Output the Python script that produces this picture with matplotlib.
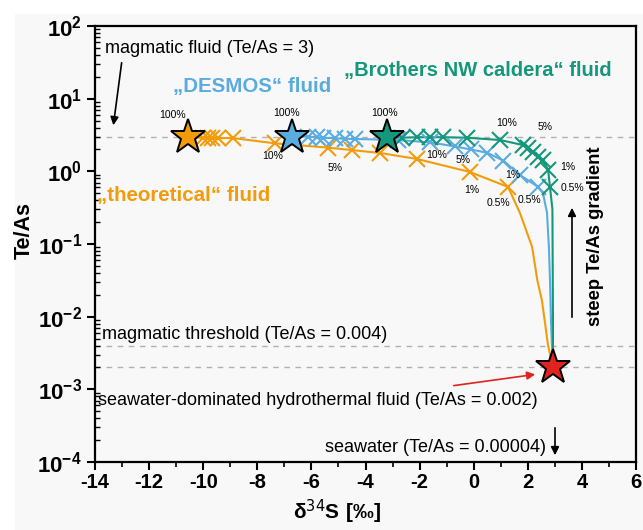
import matplotlib
matplotlib.use("Agg")
import matplotlib.pyplot as plt
from matplotlib.patches import Rectangle
import numpy as np

plt.rcParams['font.family'] = ['Liberation Sans', 'DejaVu Sans']
plt.rcParams['mathtext.fontset'] = 'custom'
plt.rcParams['mathtext.rm'] = 'Liberation Sans'
plt.rcParams['mathtext.bf'] = 'Liberation Sans:bold'

# ---------------- data ----------------
star_theo = (-10.56, 3.0)
star_desmos = (-6.72, 3.0)
star_brothers = (-3.2, 3.0)
star_seawater_fluid = (2.93, 0.002)

theo_x = [-10.01, -9.82, -9.67, -9.45, -8.90, -7.35, -5.39, -4.50, -3.46, -2.10, -0.14, 1.27]
theo_y = [2.87, 2.87, 2.87, 2.87, 2.87, 2.43, 2.12, 1.96, 1.79, 1.48, 0.98, 0.61]
theo_tail_x = [1.71, 2.16, 2.35, 2.52, 2.75]
theo_tail_y = [0.267, 0.091, 0.032, 0.0169, 0.004]

desmos_x = [-6.13, -5.79, -5.57, -5.13, -4.76, -4.39, -2.80, -1.6, -0.7, -0.1, 0.5, 1.1, 1.71, 2.38]
desmos_y = [3.0, 2.95, 2.9, 2.85, 2.8, 2.79, 2.7, 2.5, 2.2, 2.0, 1.8, 1.4, 0.89, 0.61]
desmos_tail_x = [2.56, 2.71, 2.78, 2.82, 2.86]
desmos_tail_y = [0.5, 0.27, 0.09, 0.032, 0.008]

brothers_x = [-2.65, -2.10, -1.62, -1.14, -0.25, 0.97, 1.82, 2.01, 2.19, 2.38, 2.56, 2.75, 2.82]
brothers_y = [2.9, 2.95, 2.95, 2.95, 2.9, 2.70, 2.30, 2.09, 1.85, 1.57, 1.43, 1.05, 0.61]
brothers_tail_x = [2.91, 2.93]
brothers_tail_y = [0.3, 0.01]

ref_levels = [3, 0.004, 0.002]

C_OR = '#F39C0B'
C_BL = '#5AACE0'
C_GR = '#14977A'
C_RED = '#E0231E'

# ---------------- figure ----------------
fig = plt.figure(figsize=(6.43, 5.30), dpi=100, facecolor='white')
fig.patches.append(Rectangle((15/643, 0), 1 - 15/643, 1 - 14/530, transform=fig.transFigure,
                             facecolor='#f8f8f8', edgecolor='none', zorder=-10))
ax = fig.add_axes([95/643, 1 - 462/530, (636-95)/643, (462-26)/530])
ax.set_facecolor('#f8f8f8')
ax.set_yscale('log')
ax.set_xlim(-14, 6)
ax.set_ylim(1e-4, 1e2)

for lv in ref_levels:
    ax.axhline(lv, color='#b0b0b0', lw=1.0, ls=(0, (4, 4)), zorder=1)

def series(star, mx, my, tx, ty, color):
    lx = [star[0]] + mx + tx + [star_seawater_fluid[0]]
    ly = [star[1]] + my + ty + [star_seawater_fluid[1]]
    ax.plot(lx, ly, color=color, lw=1.5, zorder=2)
    ax.plot(mx, my, ls='none', marker='x', color=color, ms=11, mew=1.5, zorder=3)
    ax.plot([star[0]], [star[1]], ls='none', marker='*', color=color, ms=26,
            mec='black', mew=1.4, zorder=5)

series(star_theo, theo_x, theo_y, theo_tail_x, theo_tail_y, C_OR)
series(star_desmos, desmos_x, desmos_y, desmos_tail_x, desmos_tail_y, C_BL)
series(star_brothers, brothers_x, brothers_y, brothers_tail_x, brothers_tail_y, C_GR)
ax.plot([star_seawater_fluid[0]], [star_seawater_fluid[1]], ls='none', marker='*',
        color=C_RED, ms=26, mec='black', mew=1.4, zorder=6)

# percentage labels
def px2data(px, py):
    return (px - 95) / 27.05 - 14, 10 ** ((462 - py) / 72.67 - 4)

pct = [
    ('100%', 173, 115), ('100%', 287, 113), ('100%', 385, 113),
    ('10%', 273, 156), ('5%', 335, 168), ('1%', 472, 190), ('0.5%', 498, 203),
    ('10%', 437, 155), ('5%', 463, 160), ('1%', 513, 175), ('0.5%', 529, 200),
    ('10%', 507, 123), ('5%', 545, 127), ('1%', 568, 167), ('0.5%', 572, 188),
]
for t, px, py in pct:
    x, y = px2data(px, py)
    ax.text(x, y, t, fontsize=7.5, ha='center', va='center', zorder=7)

# text annotations
def txt(s, px, py, **kw):
    x, y = px2data(px, py)
    ax.text(x, y, s, **kw)

FS = 13
txt('magmatic fluid (Te/As = 3)', 105, 48, fontsize=FS, ha='left', va='center')
ax.annotate('', xy=px2data(113, 128), xytext=px2data(122, 60),
            arrowprops=dict(arrowstyle='-|>', color='black', lw=1.2, mutation_scale=12))
txt('„DESMOS“ fluid', 252, 86, fontsize=14.8, fontweight='bold', color=C_BL, ha='center', va='center')
txt('„Brothers NW caldera“ fluid', 478, 70, fontsize=14.5, fontweight='bold', color=C_GR, ha='center', va='center')
txt('„theoretical“ fluid', 97, 195, fontsize=14.8, fontweight='bold', color=C_OR, ha='left', va='center')
txt('magmatic threshold (Te/As = 0.004)', 102, 334, fontsize=FS, ha='left', va='center')
txt('seawater-dominated hydrothermal fluid (Te/As = 0.002)', 98, 400, fontsize=FS, ha='left', va='center')
ax.annotate('', xy=px2data(538, 374), xytext=px2data(451, 386),
            arrowprops=dict(arrowstyle='-|>', color=C_RED, lw=1.2, mutation_scale=12))
txt('seawater (Te/As = 0.00004)', 546, 447, fontsize=FS, ha='right', va='center')
ax.annotate('', xy=px2data(555, 458), xytext=px2data(555, 425),
            arrowprops=dict(arrowstyle='-|>', color='black', lw=1.2, mutation_scale=12))
txt('steep Te/As gradient', 596, 236, fontsize=13.2, fontweight='bold', rotation=90, ha='center', va='center')
ax.annotate('', xy=px2data(572, 205), xytext=px2data(572, 320),
            arrowprops=dict(arrowstyle='-|>', color='black', lw=1.2, mutation_scale=12))

# axes styling
for s in ax.spines.values():
    s.set_linewidth(1.6)
ax.set_xticks(np.arange(-14, 7, 2))
ax.set_xticks(np.arange(-14, 7, 1), minor=True)
ax.set_xticklabels([str(v) for v in range(-14, 7, 2)], fontsize=14.5, fontweight='bold')
yt = [1e-4, 1e-3, 1e-2, 1e-1, 1, 10, 100]
ax.set_yticks(yt)
ax.set_yticklabels([r'$\mathbf{10^{%d}}$' % int(np.log10(v)) for v in yt], fontsize=16)
ax.yaxis.set_minor_locator(matplotlib.ticker.LogLocator(base=10, subs=np.arange(2, 10), numticks=20))
ax.yaxis.set_minor_formatter(matplotlib.ticker.NullFormatter())
ax.tick_params(axis='both', which='major', direction='out', length=6, width=1.5)
ax.tick_params(axis='x', which='minor', direction='out', length=3.5, width=1.2)
ax.tick_params(axis='y', which='minor', direction='in', length=3.5, width=1.0)
ax.tick_params(axis='x', which='major', pad=2)
ax.set_ylabel('Te/As', fontsize=15.5, fontweight='bold')
ax.yaxis.set_label_coords(-0.112, 0.53)
ax.set_xlabel(r'$\mathbf{\delta^{\mathsf{34}}S\ [‰]}$', fontsize=15)
ax.xaxis.set_label_coords(0.447, -0.082)

fig.savefig('out.png', dpi=100, facecolor=fig.get_facecolor())
